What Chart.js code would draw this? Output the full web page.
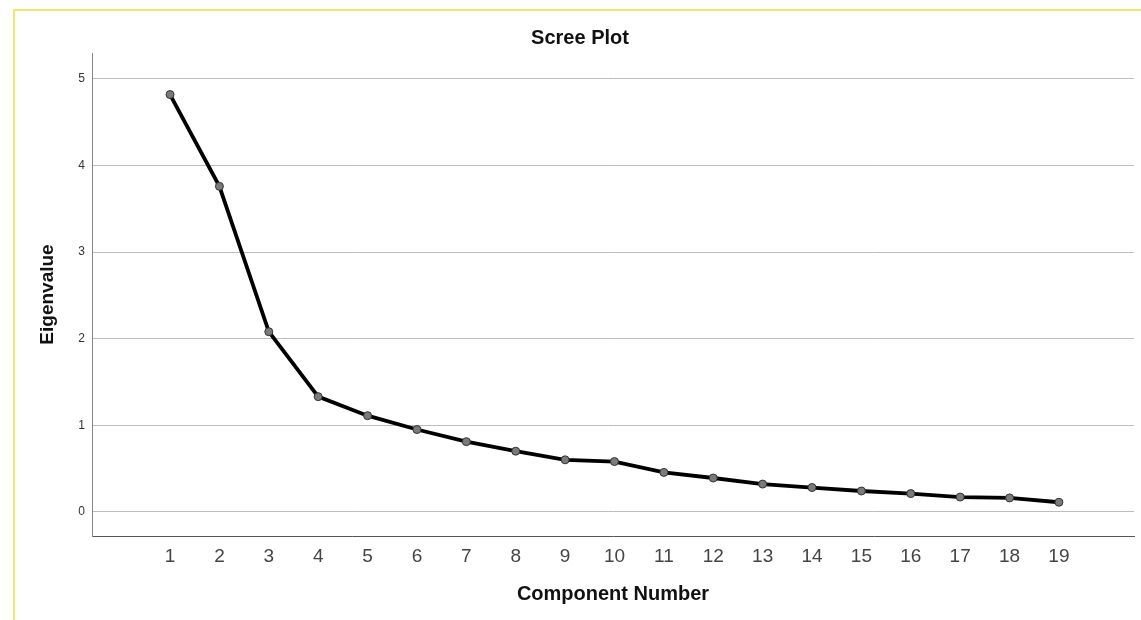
<!DOCTYPE html>
<html>
<head>
<meta charset="utf-8">
<script src="https://cdn.jsdelivr.net/npm/chart.js@4.4.1/dist/chart.umd.min.js"></script>
<style>
  html, body { margin: 0; padding: 0; background: #fff; }
  #wrap { position: relative; width: 1141px; height: 620px; }
  #frame {
    position: absolute; left: 13px; top: 9px; right: 0; bottom: 0;
    border-left: 2px solid #f2e572; border-top: 2px solid #f2e572;
    pointer-events: none;
  }
  canvas { position: absolute; left: 0; top: 0; }
</style>
</head>
<body>
<div id="wrap">
  <canvas id="scree" width="1141" height="620"></canvas>
  <div id="frame"></div>
</div>
<script>
// component numbers and their eigenvalues
const components = [1, 2, 3, 4, 5, 6, 7, 8, 9, 10, 11, 12, 13, 14, 15, 16, 17, 18, 19];
const eigenvalues = [4.82, 3.76, 2.08, 1.33, 1.11, 0.95, 0.81, 0.70, 0.60, 0.58,
                     0.455, 0.39, 0.32, 0.28, 0.24, 0.21, 0.17, 0.16, 0.11];
const yTicks = [0, 1, 2, 3, 4, 5];

const points = components.map((c, i) => ({ x: c, y: eigenvalues[i] }));

const ctx = document.getElementById('scree').getContext('2d');

new Chart(ctx, {
  type: 'line',
  data: {
    datasets: [{
      data: points,
      borderColor: '#000',
      borderWidth: 3.8,
      tension: 0,
      fill: false,
      pointRadius: 4,
      pointBackgroundColor: '#7a7a7a',
      pointBorderColor: '#333',
      pointBorderWidth: 1
    }]
  },
  options: {
    responsive: false,
    animation: false,
    // left padding shifts the title centre to where it sits in the original
    layout: { padding: { left: 26, right: 7, top: 0, bottom: 0 } },
    plugins: {
      legend: { display: false },
      tooltip: { enabled: false },
      title: {
        display: true,
        text: 'Scree Plot',
        color: '#111',
        font: { family: 'Liberation Sans', size: 20, weight: 'bold' },
        padding: { top: 26, bottom: 3 }
      }
    },
    scales: {
      x: {
        type: 'linear',
        min: -0.58,
        max: 20.52,
        afterBuildTicks: (axis) => { axis.ticks = components.map(v => ({ value: v })); },
        afterFit: (axis) => { axis.height = 84; },
        grid: { display: false, drawTicks: false },
        border: { display: true, color: '#555', width: 1 },
        ticks: {
          color: '#444',
          padding: 9,
          font: { family: 'Liberation Sans', size: 19 }
        },
        title: {
          display: true,
          text: 'Component Number',
          color: '#111',
          font: { family: 'Liberation Sans', size: 20, weight: 'bold' },
          padding: { top: 0, bottom: 14 }
        }
      },
      y: {
        min: -0.28,
        max: 5.3,
        afterBuildTicks: (axis) => { axis.ticks = yTicks.map(v => ({ value: v })); },
        afterFit: (axis) => { axis.width = 66; },
        grid: { color: '#bdbdbd', lineWidth: 1, drawTicks: false },
        border: { display: true, color: '#888', width: 1 },
        ticks: {
          color: '#333',
          padding: 7,
          font: { family: 'Liberation Sans', size: 12 }
        },
        title: {
          display: true,
          text: 'Eigenvalue',
          color: '#111',
          font: { family: 'Liberation Sans', size: 19, weight: 'bold' },
          padding: { top: 10, bottom: 0 }
        }
      }
    }
  }
});
</script>
</body>
</html>
